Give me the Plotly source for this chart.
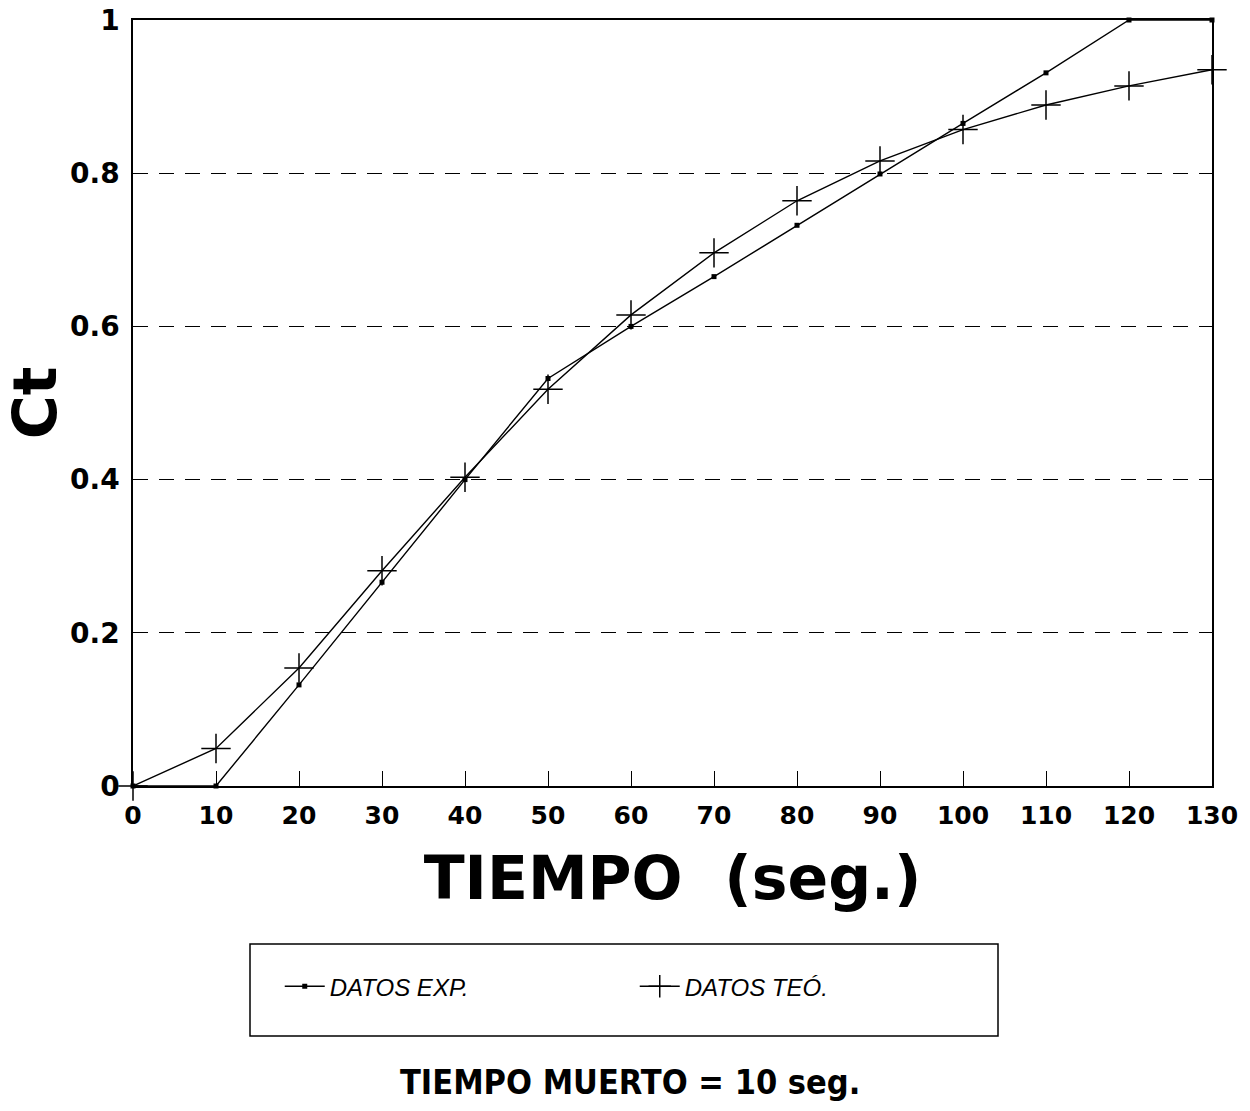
import plotly.graph_objects as go

# Tiempo (s) y concentración adimensional Ct
tiempo = [0, 10, 20, 30, 40, 50, 60, 70, 80, 90, 100, 110, 120, 130]
ct_exp = [0.0, 0.0, 0.132, 0.266, 0.400, 0.532, 0.600, 0.665, 0.732, 0.799, 0.865, 0.931, 1.0, 1.0]
ct_teo = [0.0, 0.049, 0.154, 0.281, 0.403, 0.518, 0.615, 0.696, 0.764, 0.816, 0.857, 0.889, 0.914, 0.935]

x_ticks = [0, 10, 20, 30, 40, 50, 60, 70, 80, 90, 100, 110, 120, 130]
y_ticks = [0, 0.2, 0.4, 0.6, 0.8, 1.0]
y_labels = ["0", "0.2", "0.4", "0.6", "0.8", "1"]

x_tick_font = dict(family="DejaVu Sans", size=25, color="black", weight="bold")
y_tick_font = dict(family="DejaVu Sans", size=28, color="black", weight="bold")

fig = go.Figure()
fig.add_trace(go.Scatter(
    x=tiempo, y=ct_exp, name="DATOS EXP.", mode="lines+markers",
    line=dict(color="black", width=1.4),
    marker=dict(symbol="square", size=5, color="black"),
    cliponaxis=False,
))
fig.add_trace(go.Scatter(
    x=tiempo, y=ct_teo, name="DATOS TEO\u0301.", mode="lines+markers",
    line=dict(color="black", width=1.4),
    marker=dict(symbol="cross-thin", size=21, line=dict(color="black", width=1.5)),
    cliponaxis=False,
))

fig.update_layout(
    width=1250, height=1111,
    margin=dict(l=133, r=38, t=20, b=325, autoexpand=False),
    plot_bgcolor="white", paper_bgcolor="white",
    showlegend=True,
    legend=dict(
        orientation="h", x=0.136, y=-0.262, xanchor="left", yanchor="middle",
        entrywidth=300, entrywidthmode="pixels",
        font=dict(family="Liberation Sans", size=24, color="black", style="italic"),
        bgcolor="rgba(0,0,0,0)", itemwidth=40,
    ),
    xaxis=dict(
        range=[0, 130], tickvals=x_ticks, ticks="inside", ticklen=15, tickwidth=1.3,
        tickcolor="black", showgrid=False, zeroline=False, automargin=False,
        showline=True, linecolor="black", linewidth=1.5, mirror=True,
        tickfont=x_tick_font, ticklabelstandoff=6,
        title=dict(text="TIEMPO  (seg.)", standoff=28,
                   font=dict(family="DejaVu Sans", size=60, color="black", weight="bold")),
    ),
    yaxis=dict(
        range=[0, 1], tickvals=y_ticks, ticktext=y_labels, ticks="inside", ticklen=7,
        tickwidth=1.3, tickcolor="black", automargin=False,
        showgrid=True, gridcolor="black", gridwidth=1.1, griddash="15px,11px",
        zeroline=False, showline=True, linecolor="black", linewidth=1.5, mirror=True,
        tickfont=y_tick_font, ticklabelstandoff=6,
        title=dict(text="Ct", standoff=2,
                   font=dict(family="DejaVu Sans", size=60, color="black", weight="bold")),
    ),
    shapes=[
        dict(type="rect", xref="paper", yref="paper",
             x0=(250 - 133) / 1079, x1=(998 - 133) / 1079,
             y0=(786 - 1036) / 766, y1=(786 - 944) / 766,
             line=dict(color="black", width=1.5), fillcolor="rgba(0,0,0,0)"),
    ],
    annotations=[
        dict(text="TIEMPO MUERTO = 10 seg.", xref="paper", yref="paper",
             x=(630 - 133) / 1079, y=(786 - 1082) / 766, showarrow=False,
             xanchor="center", yanchor="middle",
             font=dict(family="DejaVu Sans Condensed, Liberation Sans", size=34,
                       color="black", weight="bold")),
    ],
)

fig.write_html("out.html")
